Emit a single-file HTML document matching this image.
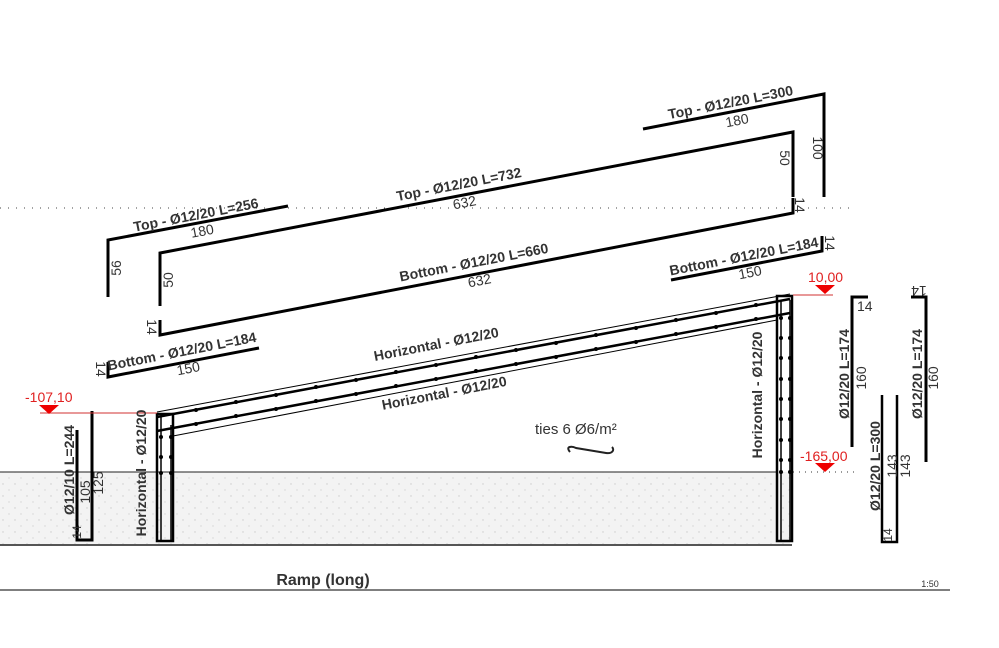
<!DOCTYPE html>
<html><head><meta charset="utf-8"><style>
html,body{margin:0;padding:0;background:#fff;}
svg{display:block;font-family:"Liberation Sans",sans-serif;}
.t{font-size:14px;font-weight:bold;fill:#333;}
.n{font-size:14px;fill:#333;}
.r{font-size:14px;fill:#e02020;}
</style></head><body>
<svg width="999" height="648" viewBox="0 0 999 648" xmlns="http://www.w3.org/2000/svg">
<defs>
<pattern id="dots" width="12" height="12" patternUnits="userSpaceOnUse">
<rect width="12" height="12" fill="#f3f3f3"/><circle cx="3" cy="4" r="0.7" fill="#ccc"/><circle cx="9" cy="10" r="0.7" fill="#d4d4d4"/>
</pattern>
</defs>
<rect x="0" y="472" width="790" height="73" fill="url(#dots)"/>
<line x1="0" y1="472" x2="778" y2="472" stroke="#222" stroke-width="1"/>
<line x1="0" y1="545" x2="792" y2="545" stroke="#555" stroke-width="2"/>
<line x1="793" y1="472" x2="855" y2="472" stroke="#333" stroke-width="1" stroke-dasharray="1,5"/>
<line x1="0" y1="208" x2="855" y2="208" stroke="#444" stroke-width="1" stroke-dasharray="1,7"/>
<line x1="0" y1="590" x2="950" y2="590" stroke="#555" stroke-width="1.5"/>
<text x="323" y="585" text-anchor="middle" style="font-size:16px;font-weight:bold;fill:#333">Ramp (long)</text>
<text x="930" y="587" text-anchor="middle" style="font-size:9px;fill:#333">1:50</text>

<g fill="none" stroke="#000" stroke-width="3">
<polyline points="108,297 108,240 288,206"/>
<polyline points="160,306 160,253 793,132 793,197"/>
<polyline points="643,129 824,94 824,197"/>
<polyline points="160,320 160,335 793,213 793,198"/>
<polyline points="671,280 822,251 822,236"/>
<polyline points="108,362 108,377 259,348"/>
<polyline points="77,430 77,540 92,540 92,411"/>
<polyline points="868,297 852,297 852,447"/>
<polyline points="911,297 926,297 926,462"/>
<polyline points="882,395 882,542 897,542 897,395" stroke-width="2.5"/>
<rect x="157" y="414" width="16" height="127" stroke-width="2.5"/>
<rect x="777" y="296" width="15" height="245" stroke-width="2.5"/>
</g>
<g fill="none" stroke="#000">
<line x1="157" y1="412" x2="790" y2="294" stroke-width="1"/>
<line x1="157" y1="417" x2="790" y2="299" stroke-width="2.5"/>
<line x1="157" y1="431" x2="790" y2="313" stroke-width="2.5"/>
<line x1="173" y1="436" x2="777" y2="320" stroke-width="1"/>
<line x1="161" y1="417" x2="161" y2="540" stroke-width="1.5"/>
<line x1="171" y1="425" x2="171" y2="540" stroke-width="1.5"/>
<line x1="781" y1="300" x2="781" y2="540" stroke-width="1.5"/>
<line x1="790" y1="300" x2="790" y2="540" stroke-width="1.5"/>
</g>
<g fill="#000">
<circle cx="196" cy="410" r="2"/><circle cx="236" cy="402" r="2"/><circle cx="276" cy="395" r="2"/><circle cx="316" cy="387" r="2"/><circle cx="356" cy="380" r="2"/><circle cx="396" cy="372" r="2"/><circle cx="436" cy="365" r="2"/><circle cx="476" cy="357" r="2"/><circle cx="516" cy="350" r="2"/><circle cx="556" cy="343" r="2"/><circle cx="596" cy="335" r="2"/><circle cx="636" cy="328" r="2"/><circle cx="676" cy="320" r="2"/><circle cx="716" cy="313" r="2"/><circle cx="756" cy="305" r="2"/>
<circle cx="196" cy="424" r="2"/><circle cx="236" cy="416" r="2"/><circle cx="276" cy="409" r="2"/><circle cx="316" cy="401" r="2"/><circle cx="356" cy="394" r="2"/><circle cx="396" cy="386" r="2"/><circle cx="436" cy="379" r="2"/><circle cx="476" cy="371" r="2"/><circle cx="516" cy="364" r="2"/><circle cx="556" cy="357" r="2"/><circle cx="596" cy="349" r="2"/><circle cx="636" cy="342" r="2"/><circle cx="676" cy="334" r="2"/><circle cx="716" cy="327" r="2"/><circle cx="756" cy="319" r="2"/>
<circle cx="161" cy="437" r="2"/><circle cx="171" cy="437" r="2"/><circle cx="161" cy="457" r="2"/><circle cx="171" cy="457" r="2"/><circle cx="161" cy="473" r="2"/><circle cx="171" cy="473" r="2"/>
<circle cx="781" cy="318" r="2"/><circle cx="790" cy="318" r="2"/><circle cx="781" cy="338" r="2"/><circle cx="790" cy="338" r="2"/><circle cx="781" cy="358" r="2"/><circle cx="790" cy="358" r="2"/><circle cx="781" cy="379" r="2"/><circle cx="790" cy="379" r="2"/><circle cx="781" cy="399" r="2"/><circle cx="790" cy="399" r="2"/><circle cx="781" cy="419" r="2"/><circle cx="790" cy="419" r="2"/><circle cx="781" cy="440" r="2"/><circle cx="790" cy="440" r="2"/><circle cx="781" cy="460" r="2"/><circle cx="790" cy="460" r="2"/><circle cx="781" cy="472" r="2"/><circle cx="790" cy="472" r="2"/>
</g>
<line x1="40" y1="413" x2="157" y2="413" stroke="#d03030" stroke-width="1"/>
<polygon points="39,405 59,405 49,414" fill="#e00"/>
<text x="25" y="402" class="r">-107,10</text>
<line x1="793" y1="295" x2="833" y2="295" stroke="#d03030" stroke-width="1"/>
<polygon points="815,285 835,285 825,294" fill="#e00"/>
<text x="808" y="282" class="r">10,00</text>
<polygon points="815,463 835,463 825,472" fill="#e00"/>
<text x="800" y="461" class="r">-165,00</text>

<g transform="rotate(-11 200 220)"><text x="197" y="219" class="t" text-anchor="middle">Top -  Ø12/20 L=256</text><text x="200" y="236" class="n" text-anchor="middle">180</text></g>
<g transform="rotate(-11 460 190)"><text x="460" y="189" class="t" text-anchor="middle">Top -  Ø12/20 L=732</text><text x="462" y="208" class="n" text-anchor="middle">632</text></g>
<g transform="rotate(-11 732 110)"><text x="732" y="107" class="t" text-anchor="middle">Top -  Ø12/20 L=300</text><text x="735" y="126" class="n" text-anchor="middle">180</text></g>
<g transform="rotate(-11 475 268)"><text x="475" y="267" class="t" text-anchor="middle">Bottom -  Ø12/20 L=660</text><text x="477" y="286" class="n" text-anchor="middle">632</text></g>
<g transform="rotate(-11 745 262)"><text x="745" y="261" class="t" text-anchor="middle">Bottom -  Ø12/20 L=184</text><text x="748" y="278" class="n" text-anchor="middle">150</text></g>
<g transform="rotate(-11 183 357)"><text x="183" y="356" class="t" text-anchor="middle">Bottom -  Ø12/20 L=184</text><text x="186" y="374" class="n" text-anchor="middle">150</text></g>
<g transform="rotate(-11 436 343)"><text x="436" y="349" class="t" text-anchor="middle">Horizontal -  Ø12/20</text></g>
<g transform="rotate(-11 443 387)"><text x="443" y="398" class="t" text-anchor="middle">Horizontal -  Ø12/20</text></g>

<g class="n">
<text transform="translate(121,268) rotate(-90)" text-anchor="middle" class="n">56</text>
<text transform="translate(173,280) rotate(-90)" text-anchor="middle" class="n">50</text>
<text transform="translate(780,158) rotate(90)" text-anchor="middle" class="n">50</text>
<text transform="translate(813,148) rotate(90)" text-anchor="middle" class="n">100</text>
<text transform="translate(795,205) rotate(90)" text-anchor="middle" class="n">14</text>
<text transform="translate(825,243) rotate(90)" text-anchor="middle" class="n">14</text>
<text transform="translate(147,327) rotate(90)" text-anchor="middle" class="n">14</text>
<text transform="translate(96,369) rotate(90)" text-anchor="middle" class="n">14</text>
<text transform="translate(74,470) rotate(-90)" class="t" text-anchor="middle">Ø12/10 L=244</text>
<text transform="translate(90,492) rotate(-90)" text-anchor="middle" class="n">105</text>
<text transform="translate(103,483) rotate(-90)" text-anchor="middle" class="n">125</text>
<text transform="translate(81,532) rotate(-90)" text-anchor="middle" style="font-size:12px;fill:#333">14</text>
<text transform="translate(146,473) rotate(-90)" class="t" text-anchor="middle">Horizontal -  Ø12/20</text>
<text transform="translate(762,395) rotate(-90)" class="t" text-anchor="middle">Horizontal -  Ø12/20</text>
<text x="857" y="311" class="n">14</text>
<text transform="translate(919,286) rotate(180)" text-anchor="middle" class="n">14</text>
<text transform="translate(849,374) rotate(-90)" class="t" text-anchor="middle">Ø12/20 L=174</text>
<text transform="translate(866,378) rotate(-90)" text-anchor="middle" class="n">160</text>
<text transform="translate(922,374) rotate(-90)" class="t" text-anchor="middle">Ø12/20 L=174</text>
<text transform="translate(938,378) rotate(-90)" text-anchor="middle" class="n">160</text>
<text transform="translate(880,466) rotate(-90)" class="t" text-anchor="middle">Ø12/20 L=300</text>
<text transform="translate(897,466) rotate(-90)" text-anchor="middle" class="n">143</text>
<text transform="translate(910,466) rotate(-90)" text-anchor="middle" class="n">143</text>
<text transform="translate(892,535) rotate(-90)" text-anchor="middle" style="font-size:12px;fill:#333">14</text>
</g>
<text x="535" y="434" style="font-size:15px;fill:#333">ties 6 Ø6/m²</text>
<path d="M570,452 C565,446 572,446 576,448 L606,453 C612,454 615,450 612,447" fill="none" stroke="#222" stroke-width="2"/>
</svg>
</body></html>
